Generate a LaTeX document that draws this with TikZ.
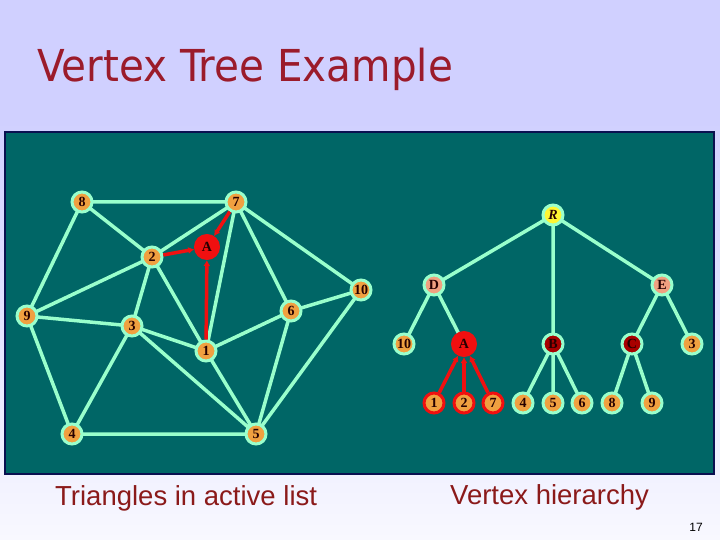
\documentclass[tikz,border=0pt]{standalone}
\usepackage{fontspec}
\setmainfont{Liberation Serif}
\newfontfamily\titlefont{DejaVu Sans}
\newfontfamily\arialfont{Liberation Sans}
\usetikzlibrary{arrows.meta,backgrounds}
\definecolor{lav}{HTML}{D0D0FF}
\definecolor{lavw}{HTML}{F8F8FF}
\definecolor{panel}{HTML}{006666}
\definecolor{navy}{HTML}{0A1050}
\definecolor{mint}{HTML}{99FFCC}
\definecolor{vorange}{HTML}{F0A040}
\definecolor{salmon}{HTML}{F0A080}
\definecolor{vred}{HTML}{F01010}
\definecolor{dred}{HTML}{A80000}
\definecolor{ttl}{HTML}{9B1B2B}
\definecolor{lbl}{HTML}{8B1A1A}
\tikzset{
  vtx/.style={circle, fill=vorange, draw=mint, line width=3pt, minimum size=20pt, inner sep=0pt,
    font=\fontsize{14}{14}\selectfont\bfseries, text=black!85!red},
  rvtx/.style={vtx, draw=vred},
  avtx/.style={vtx, fill=vred, draw=vred, minimum size=23pt},
  bvtx/.style={vtx, fill=dred},
  svtx/.style={vtx, fill=salmon},
  yvtx/.style={vtx, fill=yellow!80!white},
  edge/.style={draw=mint, line width=3.5pt},
  redge/.style={draw=vred, line width=3.5pt, -{Latex[length=6pt,width=7pt]}},
}
\begin{document}
\begin{tikzpicture}[x=1pt,y=-1pt]
\useasboundingbox (0,0) rectangle (720,540);

% left graph
\node[vtx] (g8) at (82,202) {8};
\node[vtx] (g7) at (236,202) {7};
\node[vtx] (g2) at (152,257) {2};
\node[vtx] (g9) at (27,316) {9};
\node[vtx] (g3) at (132,326) {3};
\node[vtx] (g1) at (206,351) {1};
\node[vtx] (g6) at (291,311) {6};
\node[vtx] (g10) at (361,290) {10};
\node[vtx] (g4) at (72,434) {4};
\node[vtx] (g5) at (256,434) {5};
\node[avtx] (gA) at (207,247) {A};

% tree
\node[yvtx] (tR) at (553,215) {\itshape R};
\node[svtx] (tD) at (434,285) {D};
\node[svtx] (tE) at (662,285) {E};
\node[vtx] (t10) at (404,344) {10};
\node[avtx] (tA) at (464,344) {A};
\node[bvtx] (tB) at (553,344) {B};
\node[bvtx] (tC) at (632,344) {C};
\node[vtx] (t3) at (692,344) {3};
\node[rvtx] (t1) at (434,403) {1};
\node[rvtx] (t2) at (464,403) {2};
\node[rvtx] (t7) at (493,403) {7};
\node[vtx] (t4) at (523,403) {4};
\node[vtx] (t5) at (553,403) {5};
\node[vtx] (t6) at (582,403) {6};
\node[vtx] (t8) at (612,403) {8};
\node[vtx] (t9) at (652,403) {9};

\begin{scope}[on background layer]
\fill[lav] (0,0) rectangle (720,120);
\shade[top color=lav, bottom color=lavw] (0,120) rectangle (720,540);
\filldraw[fill=panel, draw=navy, line width=2pt] (5,132) rectangle (714,474);
\path[edge] (g8.center) -- (g7.center) (g8.center) -- (g2.center) (g8.center) -- (g9.center)
  (g7.center) -- (g2.center) (g7.center) -- (g1.center) (g7.center) -- (g6.center) (g7.center) -- (g10.center)
  (g2.center) -- (g9.center) (g2.center) -- (g3.center) (g2.center) -- (g1.center) (g9.center) -- (g3.center)
  (g9.center) -- (g4.center) (g3.center) -- (g1.center) (g3.center) -- (g4.center) (g3.center) -- (g5.center)
  (g1.center) -- (g6.center) (g1.center) -- (g5.center) (g6.center) -- (g10.center) (g6.center) -- (g5.center)
  (g10.center) -- (g5.center) (g4.center) -- (g5.center);
\path[edge] (tR.center) -- (tD.center) (tR.center) -- (tB.center) (tR.center) -- (tE.center)
  (tD.center) -- (t10.center) (tD.center) -- (tA.center) (tE.center) -- (tC.center) (tE.center) -- (t3.center)
  (tB.center) -- (t4.center) (tB.center) -- (t5.center) (tB.center) -- (t6.center)
  (tC.center) -- (t8.center) (tC.center) -- (t9.center);
\end{scope}

\path[redge] (g7) -- (gA);
\path[redge] (g2) -- (gA);
\path[redge] (g1) -- (gA);
\path[redge] (t1) -- (tA);
\path[redge] (t2) -- (tA);
\path[redge] (t7) -- (tA);

\node[anchor=base west, text=ttl, inner sep=0pt] (title) at (37,82)
  {\scalebox{0.92}[1]{\titlefont\fontsize{44}{44}\selectfont Vertex Tree Example}};
\node[anchor=base west, text=lbl, inner sep=0pt, font=\arialfont\fontsize{27.5}{27.5}\selectfont] (lab1) at (55,505) {Triangles in active list};
\node[anchor=base west, text=lbl, inner sep=0pt, font=\arialfont\fontsize{27.5}{27.5}\selectfont] (lab2) at (450,504) {Vertex hierarchy};
\node[anchor=base east, text=black, inner sep=0pt, font=\arialfont\fontsize{12}{12}\selectfont] (pg) at (703,531) {17};
\end{tikzpicture}
\end{document}
